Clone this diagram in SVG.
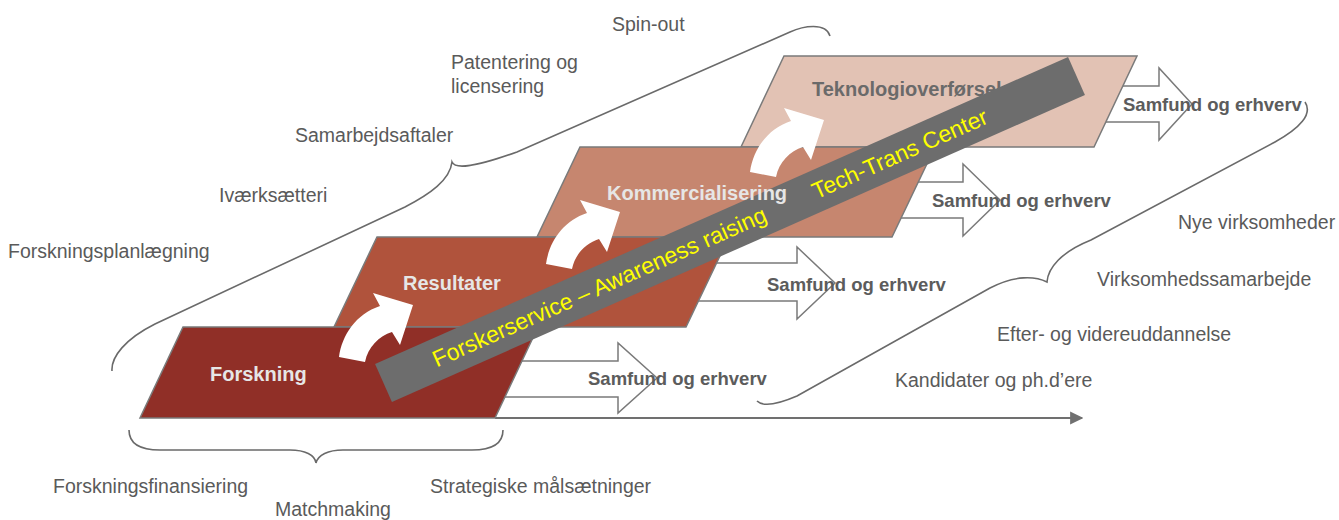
<svg xmlns="http://www.w3.org/2000/svg" width="1339" height="520" viewBox="0 0 1339 520">
  <defs>
    <style>
      .lbl { font-family: "Liberation Sans", Arial, sans-serif; font-size: 19.5px; fill: #5a5a5a; }
      .out { font-family: "Liberation Sans", Arial, sans-serif; font-size: 18.5px; font-weight: bold; fill: #5c5c5c; }
      .stage { stroke: #7a7a7a; stroke-width: 1.5; stroke-linejoin: miter; }
      .stage-txt { font-family: "Liberation Sans", Arial, sans-serif; font-size: 20px; font-weight: bold; fill: #e6e6e6; }
      .brace { fill: none; stroke: #6a6a6a; stroke-width: 1.6; }
      .block { fill: #ffffff; stroke: #7a7a7a; stroke-width: 1.5; }
      .band-txt { font-family: "Liberation Sans", Arial, sans-serif; font-size: 23px; fill: #ffff00; }
    </style>
    <marker id="axisHead" viewBox="0 0 10 10" refX="9" refY="5" markerWidth="6" markerHeight="6" markerUnits="strokeWidth" orient="auto">
      <path d="M0,0 L10,5 L0,10 Z" fill="#707070"/>
    </marker>
    <!-- curved white step arrow, base-left corner at origin -->
    <path id="stepArrow" d="M0,0 C3,-22 17,-43 41,-51 L34,-64 L74,-52 L61,-12 L53,-25 C40,-21 29,-10 26,5 Z" fill="#ffffff"/>
  </defs>

  <!-- connectors: time axis, outflow block arrows and braces -->
  <g id="connectors">
    <line x1="495" y1="418" x2="1082" y2="418" stroke="#707070" stroke-width="2.2" marker-end="url(#axisHead)"/>
    <path class="block" d="M490,361 L618,361 L618,343 L657,378 L618,413 L618,397 L490,397 Z"/>
    <path class="block" d="M690,263 L797,263 L797,247 L835,283 L797,319 L797,301 L690,301 Z"/>
    <path class="block" d="M880,182 L963,182 L963,164 L1000,200 L963,236 L963,218 L880,218 Z"/>
    <path class="block" d="M1080,86 L1159,86 L1159,68 L1192,104 L1159,140 L1159,122 L1080,122 Z"/>
    <!-- braces -->
    <path class="brace" d="M112,371 C111,357 125,339 155,324 L405,207 C430,194 450,180 452,162 C455,169 472,168 517,152 L790,32 C803,26 826,22 830,36"/>
    <path class="brace" d="M129,430 C129,444 140,450 160,450 L290,450 C305,450 315,455 316,463 C318,455 328,450 343,450 L472,450 C492,450 503,444 503,430"/>
    <path class="brace" d="M757,401 C763,407 776,405 797,396 L990,288 C1015,275 1035,276 1047,282 C1048,268 1061,252 1091,240 L1275,142 C1300,128 1313,114 1305,102"/>
  </g>

  <!-- stages -->
  <g id="node-teknologioverforsel">
    <polygon class="stage" points="784,56 1137,56 1094,147 741,147" fill="#e2c2b4"/>
    <text class="stage-txt" x="812" y="96" style="fill:#6a6a6a">Teknologioverførsel</text>
  </g>
  <g id="node-kommercialisering">
    <polygon class="stage" points="580,147 935,147 892,237 537,237" fill="#c6866f"/>
  </g>
  <g id="node-resultater">
    <polygon class="stage" points="377,237 729,237 686,327 334,327" fill="#b0533c"/>
    <text class="stage-txt" x="403" y="290">Resultater</text>
  </g>
  <g id="node-forskning">
    <polygon class="stage" points="183,327 538,327 495,418 140,418" fill="#902f27"/>
    <text class="stage-txt" x="210" y="381">Forskning</text>
  </g>

  <!-- step arrows between stages -->
  <g id="step-arrows">
    <use href="#stepArrow" transform="translate(339,357)"/>
    <use href="#stepArrow" transform="translate(546,264)"/>
    <use href="#stepArrow" transform="translate(750,172)"/>
  </g>

  <!-- outflow labels -->
  <g id="outflow-labels">
    <text class="out" x="588" y="385">Samfund og erhverv</text>
    <text class="out" x="767" y="291">Samfund og erhverv</text>
    <text class="out" x="932" y="207">Samfund og erhverv</text>
    <text class="out" x="1123" y="111">Samfund og erhverv</text>
  </g>

  <!-- support service band -->
  <g id="node-band" transform="translate(383.5,383) rotate(-23.9)">
    <rect x="0" y="-20.8" width="758" height="41.6" fill="#6d6d6d"/>
    <text class="band-txt" x="55" y="7.5">Forskerservice – Awareness raising</text>
    <text class="band-txt" x="470" y="7.5">Tech-Trans Center</text>
  </g>

  <!-- stage title that sits above the band -->
  <g id="node-kommercialisering-title">
    <text class="stage-txt" x="607" y="200">Kommercialisering</text>
  </g>

  <!-- activity labels -->
  <g id="labels">
    <text class="lbl" x="612" y="31">Spin-out</text>
    <text class="lbl" x="451" y="69">Patentering og</text>
    <text class="lbl" x="451" y="93">licensering</text>
    <text class="lbl" x="295" y="142">Samarbejdsaftaler</text>
    <text class="lbl" x="219" y="202">Iværksætteri</text>
    <text class="lbl" x="8" y="258">Forskningsplanlægning</text>
    <text class="lbl" x="1178" y="229">Nye virksomheder</text>
    <text class="lbl" x="1097" y="286">Virksomhedssamarbejde</text>
    <text class="lbl" x="997" y="341">Efter- og videreuddannelse</text>
    <text class="lbl" x="895" y="387">Kandidater og ph.d’ere</text>
    <text class="lbl" x="53" y="493">Forskningsfinansiering</text>
    <text class="lbl" x="275" y="516">Matchmaking</text>
    <text class="lbl" x="430" y="493">Strategiske målsætninger</text>
  </g>
</svg>
